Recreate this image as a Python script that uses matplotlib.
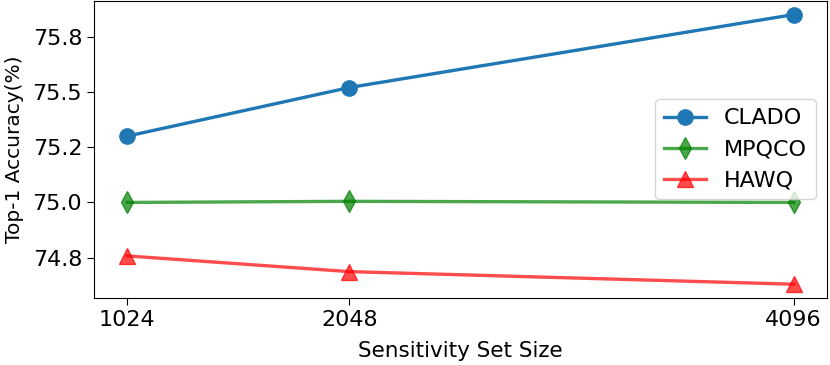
import matplotlib
matplotlib.use('Agg')
from matplotlib import pyplot as plt
from matplotlib.ticker import MultipleLocator, FormatStrFormatter

# data
sizes = [1024, 2048, 4096]
clado = [75.30, 75.52, 75.85]
mpqco = [75.00, 75.005, 75.00]
hawq = [74.758, 74.687, 74.63]

fig = plt.figure(figsize=(8.3, 3.65), dpi=100)
ax = fig.add_axes([94/830, 1 - 297.7/365, (827-94)/830, 297.7/365 - 0.003])

ax.plot(sizes, clado, c='tab:blue', marker='o', ms=11, lw=2.4, label='CLADO')
ax.plot(sizes, mpqco, c='g', marker='d', ms=11, lw=2.4, alpha=0.7, label='MPQCO')
ax.plot(sizes, hawq, c='r', marker='^', ms=11, lw=2.4, alpha=0.7, label='HAWQ')

ax.set_xticks(sizes)
ax.yaxis.set_major_locator(MultipleLocator(0.25))
ax.yaxis.set_major_formatter(FormatStrFormatter('%.1f'))
ax.tick_params(labelsize=16, length=5)
ax.set_xlabel('Sensitivity Set Size', fontsize=15.5, labelpad=8)
ax.set_ylabel('Top-1 Accuracy(%)', fontsize=14.5, labelpad=6)
ax.legend(loc='center right', fontsize=16, handlelength=1.9)

fig.savefig('out.png', dpi=100)
